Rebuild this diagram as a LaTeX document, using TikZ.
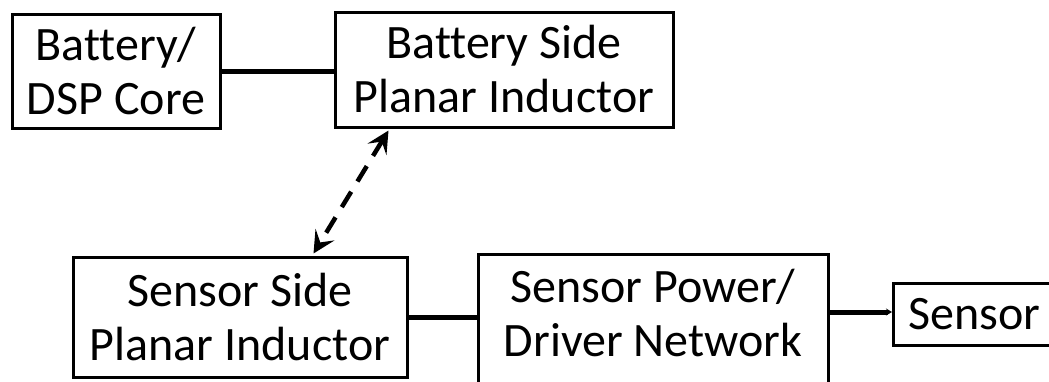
\documentclass[tikz,border=0pt]{standalone}
\usepackage{fontspec}
\setmainfont{Carlito}[Ligatures=NoCommon]
\usetikzlibrary{arrows.meta,calc}
\begin{document}
\begin{tikzpicture}[x=1pt,y=-1pt,
  box/.style={draw=black, line width=3pt, align=center, inner sep=0pt, font=\fontsize{48}{54}\selectfont},
  txt/.style={align=center, inner sep=0pt, font=\fontsize{48}{54}\selectfont},
  link/.style={line width=5pt},
  wire/.style={line width=4.5pt, dash pattern=on 18pt off 12pt,
    {Stealth[length=22pt,width=22pt,inset=9pt]}-{Stealth[length=22pt,width=22pt,inset=9pt]}}
]
\useasboundingbox (0,0) rectangle (1049,381);
\clip (0,0) rectangle (1049,381);
\node[box, minimum width=208pt, minimum height=114pt] (bat) at (116,71) {Battery/\\DSP Core};
\node[box, minimum width=338pt, minimum height=115pt] (bsi) at (504,69.5) {Battery Side\\Planar Inductor};
\node[box, minimum width=334pt, minimum height=120pt] (ssi) at (240,317) {Sensor Side\\Planar Inductor};
\node[box, minimum width=350pt, minimum height=150pt, anchor=north] (drv) at (653,253) {};
\node[txt] (drvtext) at (653,313) {Sensor Power/\\Driver Network};
\node[box, minimum width=200pt, minimum height=62pt, anchor=west] (sen) at (892,314) {};
\node[txt, anchor=west] (sentext) at (908,314) {Sensor};
\draw[link] (bat.east) -- (bat.east -| bsi.west);
\draw[link] (ssi.east) -- (ssi.east -| drv.west);
\draw[link, -{Stealth[length=6pt,width=7pt]}] (drv.east |- 0,312) -- (sen.west |- 0,312);
\coordinate (dtop) at ($(bsi.south west)+(55,2)$);
\coordinate (dbot) at ($(ssi.north west)+(242,-2)$);
\draw[wire] (dtop) -- (dbot);
\end{tikzpicture}
\end{document}
